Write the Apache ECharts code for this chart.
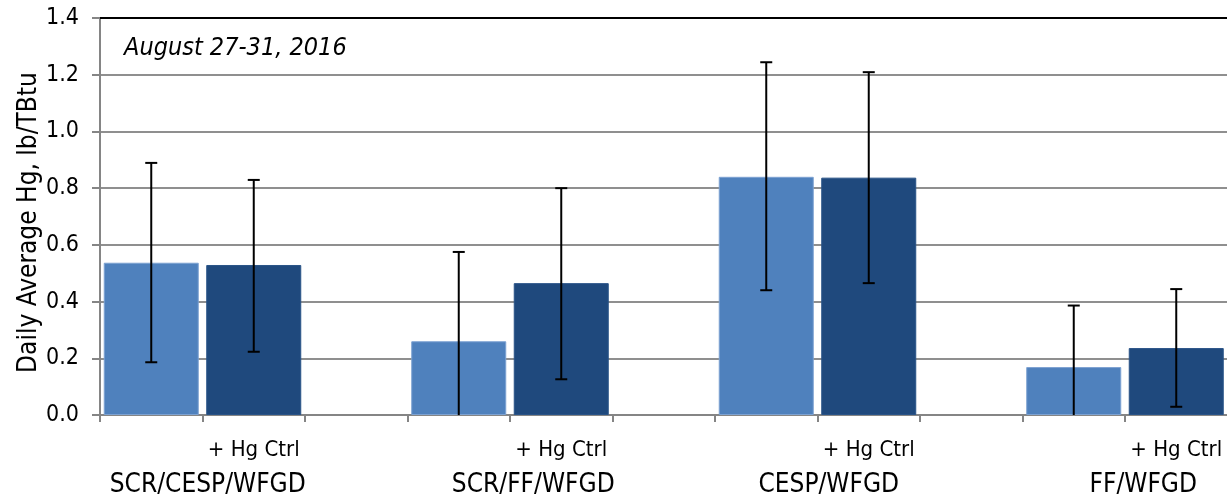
<!DOCTYPE html>
<html>
<head>
<meta charset="utf-8">
<script src="https://cdn.jsdelivr.net/npm/echarts@6/dist/echarts.min.js"></script>
<style>
html,body{margin:0;padding:0;background:#fff;overflow:hidden;width:1227px;height:495px;}
#chart{width:1330px;height:495px;}
</style>
</head>
<body>
<div id="chart"></div>
<script>
// ---- data ----
var groups = ['SCR/CESP/WFGD', 'SCR/FF/WFGD', 'CESP/WFGD', 'FF/WFGD'];
var subLabels = ['', '+ Hg Ctrl', ''];
var yTicks = ['0.0', '0.2', '0.4', '0.6', '0.8', '1.0', '1.2', '1.4'];
var baseline = [0.537, 0.26, 0.84, 0.169];          // without Hg control
var hgCtrl = [0.529, 0.465, 0.837, 0.236];          // + Hg Ctrl
var baselineLow = [0.186, -0.055, 0.44, -0.048];
var baselineHigh = [0.889, 0.575, 1.244, 0.386];
var hgCtrlLow = [0.223, 0.126, 0.465, 0.029];
var hgCtrlHigh = [0.829, 0.80, 1.209, 0.444];
var subtitle = 'August 27-31, 2016';
var yName = 'Daily Average Hg, lb/TBtu';

// ---- build category axis (3 slots per group) ----
var categories = [];
groups.forEach(function (g, gi) {
  subLabels.forEach(function (s, si) { categories.push(gi * 3 + si); });
});
var lightData = [], darkData = [], errData = [];
groups.forEach(function (g, gi) {
  lightData.push(baseline[gi], null, null);
  darkData.push(null, hgCtrl[gi], null);
  errData.push([gi * 3, baselineLow[gi], baselineHigh[gi]]);
  errData.push([gi * 3 + 1, hgCtrlLow[gi], hgCtrlHigh[gi]]);
});

var FONT = "'DejaVu Sans Condensed', 'DejaVu Sans', sans-serif";
// horizontal shift of group labels (style)
var groupShift = [46, 28, 40, 33];
var rich = {
  s: { fontFamily: FONT, fontSize: 22, color: '#000', lineHeight: 30 }
};
groupShift.forEach(function (d, i) {
  rich['g' + i] = { fontFamily: FONT, fontSize: 26, color: '#000', lineHeight: 40, padding: [0, 2 * d, 0, 0] };
});

var chart = echarts.init(document.getElementById('chart'), null, { renderer: 'canvas' });
chart.setOption({
  animation: false,
  backgroundColor: '#fff',
  title: {
    text: subtitle,
    left: 119, top: 31,
    textStyle: { fontFamily: FONT, fontStyle: 'italic', fontWeight: 'normal', fontSize: 25, color: '#000' }
  },
  grid: { left: 100, top: 18, bottom: 80, right: 0, outerBoundsMode: 'none', containLabel: false },
  xAxis: [{
    type: 'category',
    data: categories,
    axisLine: { lineStyle: { color: '#858585', width: 2 } },
    axisTick: { show: true, alignWithLabel: false, interval: 0, length: 7, lineStyle: { color: '#858585', width: 2 } },
    axisLabel: {
      interval: 0, margin: 20,
      formatter: function (v, idx) {
        var gi = Math.floor(idx / 3), si = idx % 3;
        if (si !== 1) return '';
        return '{s|' + subLabels[si] + '}\n{g' + gi + '|' + groups[gi] + '}';
      },
      rich: rich
    },
    splitLine: { show: false }
  }, {
    type: 'category',
    position: 'top',
    data: categories,
    axisLine: { show: true, lineStyle: { color: '#000', width: 2 } },
    axisTick: { show: false },
    axisLabel: { show: false }
  }],
  yAxis: {
    type: 'value',
    min: 0, max: 1.4, interval: 0.2,
    name: yName,
    nameLocation: 'middle',
    nameGap: 58,
    nameMoveOverlap: false,
    nameTextStyle: { fontFamily: FONT, fontSize: 26, color: '#000', padding: [0, 0, 0, -12] },
    axisLine: { show: true, lineStyle: { color: '#858585', width: 2 } },
    axisTick: { show: true, length: 8, lineStyle: { color: '#858585', width: 2 } },
    axisLabel: {
      fontFamily: FONT, fontSize: 23, color: '#000', margin: 21,
      formatter: function (v) { return yTicks[Math.round(v / 0.2)]; }
    },
    splitLine: { show: true, lineStyle: { color: '#8f8f8f', width: 2 } }
  },
  series: [{
    type: 'bar',
    data: lightData,
    barCategoryGap: '7.3%',
    barGap: '-100%',
    itemStyle: { color: '#4F81BD', borderColor: '#7DA2D2', borderWidth: 1 },
    z: 2
  }, {
    type: 'bar',
    data: darkData,
    barCategoryGap: '7.3%',
    barGap: '-100%',
    itemStyle: { color: '#1F497D', borderColor: '#2A5488', borderWidth: 1 },
    z: 2
  }, {
    type: 'custom',
    data: errData,
    clip: true,
    z: 5,
    encode: { x: 0, y: [1, 2] },
    renderItem: function (params, api) {
      var x = api.value(0);
      var lo = api.coord([x, api.value(1)]);
      var hi = api.coord([x, api.value(2)]);
      var hw = 6;
      var st = { stroke: '#000', lineWidth: 2 };
      return {
        type: 'group',
        children: [
          { type: 'line', shape: { x1: hi[0], y1: hi[1], x2: lo[0], y2: lo[1] }, style: st },
          { type: 'line', shape: { x1: hi[0] - hw, y1: hi[1], x2: hi[0] + hw, y2: hi[1] }, style: st },
          { type: 'line', shape: { x1: lo[0] - hw, y1: lo[1], x2: lo[0] + hw, y2: lo[1] }, style: st }
        ]
      };
    }
  }]
});
</script>
</body>
</html>
